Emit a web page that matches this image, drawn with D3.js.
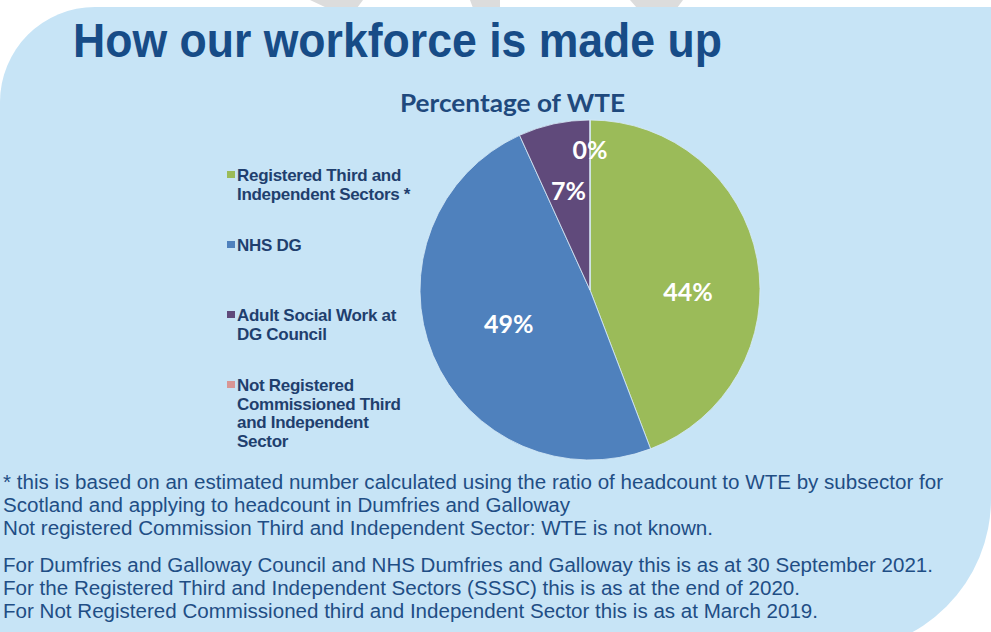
<!DOCTYPE html>
<html>
<head>
<meta charset="utf-8">
<script src="https://cdn.jsdelivr.net/npm/d3@7"></script>
<style>
  html, body { margin: 0; padding: 0; background: #ffffff; }
  svg { display: block; }
</style>
</head>
<body>
<svg id="chart" width="991" height="632"></svg>
<script>
// ---- data ----
const categories = [
  "Registered Third and\nIndependent Sectors *",
  "NHS DG",
  "Adult Social Work at\nDG Council",
  "Not Registered\nCommissioned Third\nand Independent\nSector"
];
const values = [44.2, 49.0, 6.8, 0];
const valueLabels = ["44%", "49%", "7%", "0%"];
const colors = ["#9bbb59", "#4f81bd", "#604a7b", "#d99694"];
const pageTitle = "How our workforce is made up";
const chartTitle = "Percentage of WTE";
const notes = [
  "* this is based on an estimated number calculated using the ratio of headcount to WTE by subsector for",
  "Scotland and applying to headcount in Dumfries and Galloway",
  "Not registered Commission Third and Independent Sector: WTE is not known.",
  "For Dumfries and Galloway Council and NHS Dumfries and Galloway this is as at 30 September 2021.",
  "For the Registered Third and Independent Sectors (SSSC) this is as at the end of 2020.",
  "For Not Registered Commissioned third and Independent Sector this is as at March 2019."
];

// ---- layout constants (label placement per slice: radius, angle shift) ----
const labelRadius = [98, 88, 101, 140];
const labelShift = [0.2, 0, 0, 0];

const svg = d3.select("#chart");

// decorative grey stripes above panel
const stripes = [
  [[310,0],[363,0],[357,8],[327,8]],
  [[470,0],[500,0],[500,8],[473,8]],
  [[630,0],[683,0],[677,8],[637,8]]
];
svg.selectAll("polygon.stripe").data(stripes).join("polygon")
  .attr("class","stripe")
  .attr("points", d => d.map(p => p.join(",")).join(" "))
  .attr("fill", "#dcdcdc");

// light-blue panel
svg.append("path")
  .attr("d", "M0,102 A95,95 0 0 1 95,7 L991,7 L991,499 A152,152 0 0 1 839,651 L0,651 Z")
  .attr("fill", "#c7e4f6");

// page title
svg.append("text")
  .attr("x", 73).attr("y", 57)
  .attr("textLength", 649).attr("lengthAdjust", "spacingAndGlyphs")
  .attr("font-family", "'Liberation Sans', Arial, sans-serif")
  .attr("font-weight", "bold").attr("font-size", 48)
  .attr("fill", "#174c87")
  .text(pageTitle);

// chart title
svg.append("text")
  .attr("x", 400).attr("y", 112)
  .attr("textLength", 225).attr("lengthAdjust", "spacingAndGlyphs")
  .attr("font-family", "Lato, 'Open Sans', sans-serif")
  .attr("font-weight", "bold").attr("font-size", 24)
  .attr("fill", "#1f497d")
  .text(chartTitle);

// pie
const cx = 590, cy = 290, R = 170;
const pie = d3.pie().sort(null).value(d => d)(values);
const arc = d3.arc().innerRadius(0).outerRadius(R);
const g = svg.append("g").attr("transform", `translate(${cx},${cy})`);
g.selectAll("path.slice").data(pie).join("path")
  .attr("class", "slice")
  .attr("d", arc)
  .attr("fill", (d, i) => colors[i])
  .attr("stroke", "#d8ebf7").attr("stroke-width", 0.8);

// labels
g.selectAll("text.lbl").data(pie).join("text")
  .attr("class", "lbl")
  .attr("transform", (d, i) => {
    const a = (d.startAngle + d.endAngle) / 2 + labelShift[i];
    const r = labelRadius[i];
    return `translate(${r * Math.sin(a)},${-r * Math.cos(a)})`;
  })
  .attr("text-anchor", "middle").attr("dy", "0.36em")
  .attr("font-family", "Lato, 'Open Sans', sans-serif")
  .attr("font-weight", "bold").attr("font-size", 25)
  .attr("fill", "#ffffff")
  .text((d, i) => valueLabels[i]);

// legend
const legend = svg.append("g");
categories.forEach((c, i) => {
  const y0 = 181 + i * 70;
  legend.append("rect")
    .attr("x", 227).attr("y", y0 - 10).attr("width", 8).attr("height", 7)
    .attr("fill", colors[i]);
  const t = legend.append("text")
    .attr("font-family", "'Liberation Sans', Arial, sans-serif")
    .attr("font-weight", "bold").attr("font-size", 17)
    .attr("letter-spacing", "-0.3px")
    .attr("fill", "#1f3f6e");
  c.split("\n").forEach((line, j) => {
    t.append("tspan").attr("x", 237).attr("y", y0 + j * 18.5).text(line);
  });
});

// footnotes
const noteY = [489, 512, 535, 572, 595, 618];
const noteW = [940, 567, 710, 930, 797, 815];
svg.selectAll("text.note").data(notes).join("text")
  .attr("class", "note")
  .attr("x", 3).attr("y", (d, i) => noteY[i])
  .attr("textLength", (d, i) => noteW[i]).attr("lengthAdjust", "spacingAndGlyphs")
  .attr("font-family", "'Liberation Sans', Arial, sans-serif")
  .attr("font-size", 19.5)
  .attr("fill", "#1f4e85")
  .text(d => d);
</script>
</body>
</html>
